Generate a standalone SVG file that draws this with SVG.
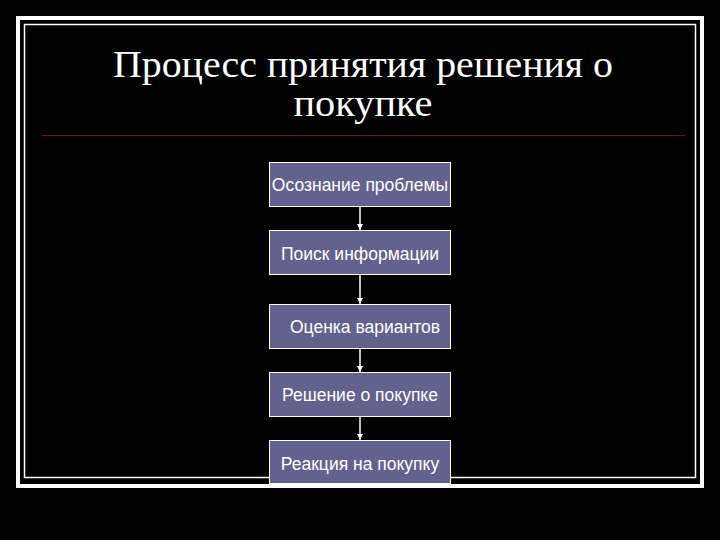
<svg xmlns="http://www.w3.org/2000/svg" width="720" height="540" viewBox="0 0 720 540">
<style>
.box{fill:#62628f;stroke:#ffffff;stroke-width:1}
.lbl{font-family:"Liberation Sans",Arial,sans-serif;font-size:17.5px;fill:#ffffff;text-anchor:middle}
.ttl{font-family:"Liberation Serif","Times New Roman",serif;font-size:38px;fill:#ffffff;text-anchor:middle}
.con{stroke:#ffffff;stroke-width:1.5;fill:none;marker-end:url(#ah)}
</style>
<defs>
<marker id="ah" viewBox="0 0 10 10" refX="10" refY="5" markerWidth="6" markerHeight="6" markerUnits="userSpaceOnUse" orient="auto">
<path d="M0,0 L10,5 L0,10 z" fill="#ffffff"/>
</marker>
</defs>
<rect x="0" y="0" width="720" height="540" fill="#000000"/>
<g id="frame">
<rect x="18" y="18" width="684" height="468" fill="none" stroke="#ffffff" stroke-width="4"/>
<rect x="24.5" y="24.5" width="671" height="453" fill="none" stroke="#ffffff" stroke-width="1.5"/>
<line x1="42" y1="135.5" x2="685" y2="135.5" stroke="#6b1616" stroke-width="1.2"/>
</g>
<g id="title">
<text class="ttl" x="363" y="77" textLength="500" lengthAdjust="spacingAndGlyphs">Процесс принятия решения о</text>
<text class="ttl" x="363" y="116" textLength="139" lengthAdjust="spacingAndGlyphs">покупке</text>
</g>
<g id="connectors">
<line class="con" x1="360" y1="207" x2="360" y2="230"/>
<line class="con" x1="360" y1="275" x2="360" y2="304"/>
<line class="con" x1="360" y1="349" x2="360" y2="372"/>
<line class="con" x1="360" y1="417" x2="360" y2="440"/>
</g>
<g id="n1"><rect class="box" x="269.5" y="162.5" width="181" height="44"/><text class="lbl" x="360" y="191">Осознание проблемы</text></g>
<g id="n2"><rect class="box" x="269.5" y="230.5" width="181" height="44"/><text class="lbl" x="360" y="260">Поиск информации</text></g>
<g id="n3"><rect class="box" x="269.5" y="304.5" width="181" height="44"/><text class="lbl" x="365" y="333">Оценка вариантов</text></g>
<g id="n4"><rect class="box" x="269.5" y="372.5" width="181" height="44"/><text class="lbl" x="360" y="401">Решение о покупке</text></g>
<g id="n5"><rect class="box" x="269.5" y="440.5" width="181" height="43"/><text class="lbl" x="360" y="470">Реакция на покупку</text></g>
</svg>
